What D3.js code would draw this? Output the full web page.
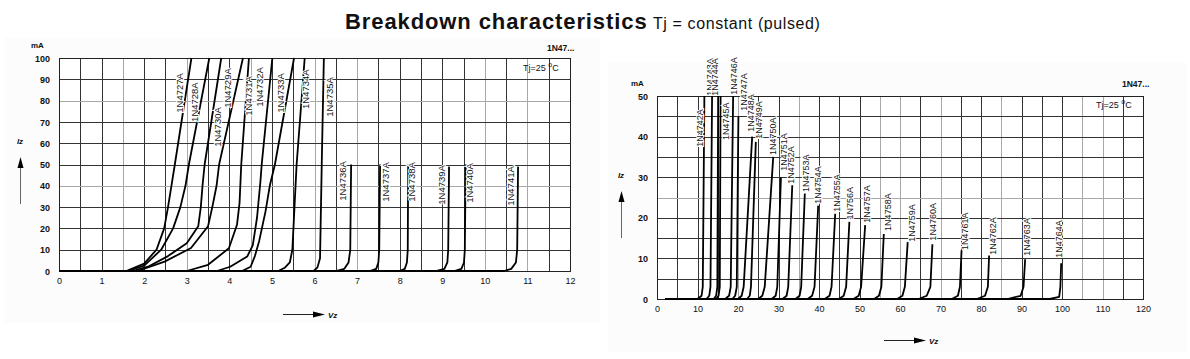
<!DOCTYPE html>
<html>
<head>
<meta charset="utf-8">
<script src="https://cdn.jsdelivr.net/npm/d3@7"></script>
<style>
  body { margin: 0; background: #fff; }
  text { font-family: "Liberation Sans", Arial, sans-serif; fill: #111; }
</style>
</head>
<body>
<script>
// ---- left panel data : 1N4727A .. 1N4741A (Vz in V, Iz in mA) ----
var leftNames = ["1N4727A", "1N4728A", "1N4730A", "1N4729A", "1N4731A", "1N4732A", "1N4733A", "1N4734A", "1N4735A",
  "1N4736A", "1N4737A", "1N4738A", "1N4739A", "1N4740A", "1N4741A"];
var leftCurves = [
  [[0, 0], [1.58, 0], [2.0, 3.5], [2.29, 10], [2.47, 20], [2.56, 30], [2.64, 40], [2.72, 50], [3.11, 100]],
  [[0, 0], [1.62, 0], [2.0, 2.5], [2.4, 10], [2.68, 20], [2.85, 30], [2.97, 40], [3.05, 50], [3.53, 100]],
  [[0, 0], [1.72, 0], [2.09, 2], [2.56, 7], [3.0, 13], [3.27, 21], [3.33, 30], [3.37, 40], [3.42, 50], [3.81, 100]],
  [[0, 0], [1.85, 0], [2.48, 4.4], [3.1, 10.8], [3.5, 21], [3.6, 30], [3.7, 40], [3.76, 50], [4.32, 100]],
  [[0, 0], [3.0, 0], [3.5, 2.9], [3.99, 10.7], [4.18, 21.7], [4.24, 32], [4.28, 50], [4.46, 100]],
  [[0, 0], [3.71, 0], [4.02, 2], [4.42, 6.8], [4.55, 12], [4.65, 25], [4.73, 42], [4.76, 50], [5.01, 100]],
  [[0, 0], [4.3, 0], [4.5, 2], [4.6, 7], [4.7, 14], [4.85, 28], [4.95, 40], [5.07, 50], [5.52, 100]],
  [[0, 0], [5.15, 0], [5.3, 1.5], [5.42, 4], [5.48, 10], [5.53, 30], [5.58, 50], [5.77, 100]],
  [[0, 0], [5.98, 0], [6.07, 1.7], [6.13, 6], [6.17, 50], [6.22, 100]],
  [[0, 0], [6.5, 0], [6.7, 1], [6.8, 4], [6.84, 10], [6.86, 50]],
  [[0, 0], [7.3, 0], [7.45, 1], [7.5, 4], [7.52, 10], [7.54, 50]],
  [[0, 0], [8.0, 0], [8.12, 1], [8.17, 4], [8.19, 10], [8.2, 50]],
  [[0, 0], [8.85, 0], [9.05, 1], [9.12, 4], [9.14, 10], [9.16, 49]],
  [[0, 0], [9.28, 0], [9.45, 1], [9.51, 4], [9.53, 10], [9.55, 50]],
  [[0, 0], [10.45, 0], [10.62, 1], [10.73, 4], [10.76, 10], [10.78, 49]]
];
// where each type label sits, in chart units
var leftLabelAt = [[2.84, 83.6], [3.19, 79.3], [3.73, 67.6], [3.95, 85.9], [4.46, 82.2], [4.72, 86.4], [5.21, 83.6],
  [5.80, 85.4], [6.36, 81.7], [6.66, 42.3], [7.68, 41.8], [8.28, 41.8], [8.99, 40.4], [9.65, 41.3], [10.61, 39.9]];
var leftXTicks = [0, 1, 2, 3, 4, 5, 6, 7, 8, 9, 10, 11, 12];
var leftYTicks = [0, 10, 20, 30, 40, 50, 60, 70, 80, 90, 100];
var leftGreyV = [1.5, 3, 4.5, 6, 7, 10, 11];
var leftGreyH = [40, 80];

// ---- right panel data : 1N4742A .. 1N4764A ----
var rightNames = ["1N4742A", "1N4743A", "1N4744A", "1N4745A", "1N4746A", "1N4747A", "1N4748A", "1N4749A", "1N4750A",
  "1N4751A", "1N4752A", "1N4753A", "1N4754A", "1N4755A", "1N756A", "1N4757A", "1N4758A", "1N4759A", "1N4760A",
  "1N4761A", "1N4762A", "1N4763A", "1N4764A"];
var rightCurves = [
  [[2, 0], [10.0, 0], [11.0, 0.8], [11.3, 3], [11.7, 50]],
  [[2, 0], [12.2, 0], [12.9, 0.8], [13.2, 3], [13.6, 50]],
  [[2, 0], [14.0, 0], [14.6, 0.8], [14.9, 3], [15.1, 50]],
  [[2, 0], [14.6, 0], [15.2, 0.8], [15.5, 3], [15.7, 50]],
  [[2, 0], [16.8, 0], [17.8, 0.8], [18.2, 3], [18.8, 50]],
  [[2, 0], [18.6, 0], [19.3, 0.8], [19.7, 3], [20.1, 45]],
  [[2, 0], [20.0, 0], [20.9, 0.8], [21.4, 3], [23.5, 40]],
  [[2, 0], [22.2, 0], [22.9, 0.8], [23.2, 3], [24.4, 38.7]],
  [[2, 0], [25.0, 0], [26.0, 0.8], [26.6, 3], [28.7, 35]],
  [[2, 0], [28.3, 0], [29.3, 0.8], [29.7, 3], [30.6, 30]],
  [[2, 0], [31.0, 0], [32.0, 0.8], [32.4, 3], [33.4, 28]],
  [[2, 0], [34.2, 0], [35.2, 0.8], [35.6, 3], [36.5, 26]],
  [[2, 0], [37.2, 0], [38.3, 0.8], [38.9, 3], [39.8, 23]],
  [[2, 0], [41.4, 0], [42.6, 0.8], [43.1, 3], [44.0, 21]],
  [[2, 0], [44.9, 0], [46.1, 0.8], [46.7, 3], [47.5, 19]],
  [[2, 0], [48.5, 0], [49.8, 0.8], [50.4, 3], [51.4, 18.2]],
  [[2, 0], [53.6, 0], [54.8, 0.8], [55.4, 3], [56.0, 16]],
  [[2, 0], [59.3, 0], [60.6, 0.8], [61.2, 3], [61.9, 14]],
  [[2, 0], [64.6, 0], [66.6, 0.8], [67.5, 3], [68.0, 13.5]],
  [[2, 0], [72.8, 0], [74.3, 0.8], [74.8, 3], [75.2, 12]],
  [[2, 0], [79.0, 0], [81.0, 0.8], [81.7, 3], [82.0, 10.7]],
  [[2, 0], [86.5, 0], [89.8, 0.8], [90.5, 3], [90.9, 9.8]],
  [[2, 0], [97.0, 0], [99.3, 0.5], [99.6, 3], [99.8, 8.8]]
];
var rightLabelAt = [[10.6, 42.1], [13.1, 54.7], [14.3, 54.7], [17.0, 43.8], [19.0, 54.9], [21.5, 51.0], [23.1, 45.8],
  [25.2, 44.1], [28.7, 40.1], [31.2, 36.2], [33.0, 33.0], [36.8, 31.0], [39.8, 28.1], [44.4, 26.1], [47.7, 23.6],
  [51.8, 23.4], [57.0, 21.4], [62.9, 18.7], [68.2, 19.0], [75.9, 16.7], [82.9, 15.5], [91.3, 15.3], [99.1, 14.8]];
var rightXTicks = [0, 10, 20, 30, 40, 50, 60, 70, 80, 90, 100, 110, 120];
var rightYTicks = [0, 10, 20, 30, 40, 50];
var rightGreyV = [20, 35, 55, 60, 70, 85, 105, 110];
var rightGreyH = [25];

var svg = d3.select("body").append("svg")
  .attr("width", 1190)
  .attr("height", 359);

// title
var title = svg.append("text").attr("x", 345).attr("y", 29);
title.append("tspan").attr("font-size", 22).attr("font-weight", "bold").attr("letter-spacing", 0.9)
  .text("Breakdown characteristics");
title.append("tspan").attr("x", 653).attr("font-size", 16).attr("letter-spacing", 0.6)
  .text("Tj = constant (pulsed)");

// draws one panel; o holds the scales and the decorations
function panel(o) {
  var g = svg.append("g");
  var x = o.x, y = o.y;
  var x0 = x.range()[0], x1 = x.range()[1], y0 = y.range()[0], y1 = y.range()[1];

  g.append("rect").attr("x", o.bg[0]).attr("y", o.bg[1]).attr("width", o.bg[2]).attr("height", o.bg[3])
    .attr("fill", "#fcfcfc");
  g.append("rect").attr("x", x0).attr("y", y1).attr("width", x1 - x0).attr("height", y0 - y1).attr("fill", "#fff");

  // grid
  g.append("g").selectAll("line").data(o.vGrid).join("line")
    .attr("x1", d => Math.round(x(d)) + 0.5).attr("x2", d => Math.round(x(d)) + 0.5)
    .attr("y1", y1).attr("y2", y0)
    .attr("stroke", d => o.greyV.indexOf(d) >= 0 ? "#a8a8a8" : "#333")
    .attr("stroke-width", 1);
  g.append("g").selectAll("line").data(o.hGrid).join("line")
    .attr("y1", d => Math.round(y(d)) + 0.5).attr("y2", d => Math.round(y(d)) + 0.5)
    .attr("x1", x0).attr("x2", x1)
    .attr("stroke", d => o.greyH.indexOf(d) >= 0 ? "#a8a8a8" : "#333")
    .attr("stroke-width", 1);
  g.append("rect").attr("x", x0 + 0.5).attr("y", y1 + 0.5).attr("width", x1 - x0).attr("height", y0 - y1)
    .attr("fill", "none").attr("stroke", "#222");

  // axes (labels only)
  var ax = g.append("g").attr("transform", "translate(0," + (y0 + 4) + ")")
    .call(d3.axisBottom(x).tickValues(o.xTicks).tickSize(0).tickFormat(d3.format("d")));
  var ay = g.append("g").attr("transform", "translate(" + (x0 - 6) + ",0)")
    .call(d3.axisLeft(y).tickValues(o.yTicks).tickSize(0).tickFormat(d3.format("d")));
  [ax, ay].forEach(function(a) {
    a.select(".domain").remove();
    a.selectAll("text").attr("font-size", 9).attr("fill", "#111")
      .attr("font-family", "'Liberation Sans', Arial, sans-serif").attr("font-weight", "bold");
  });
  ax.selectAll("text").attr("font-weight", "normal");
  ay.selectAll("text").attr("dy", "0.35em");

  // curves
  var line = d3.line().x(d => x(d[0])).y(d => y(d[1]));
  g.append("g").selectAll("path").data(o.curves).join("path")
    .attr("d", line).attr("fill", "none").attr("stroke", "#000")
    .attr("stroke-width", 1.8).attr("stroke-linejoin", "round");

  // type labels
  g.append("g").selectAll("text").data(o.names).join("text")
    .attr("transform", (d, i) => "translate(" + x(o.labelAt[i][0]) + "," + y(o.labelAt[i][1]) + ") rotate(-90)")
    .attr("text-anchor", "middle").attr("dy", "0.35em")
    .attr("font-size", o.labelSize)
    .attr("stroke", "#fff").attr("stroke-width", 2).attr("paint-order", "stroke")
    .text(d => d);

  // unit, family and temperature notes
  g.append("text").attr("x", o.mA[0]).attr("y", o.mA[1]).attr("font-size", 8).attr("font-weight", "bold").text("mA");
  g.append("text").attr("x", o.fam[0]).attr("y", o.fam[1]).attr("font-size", 8.5).attr("font-weight", "bold").text("1N47...");
  var tj = g.append("text").attr("x", o.tj[0]).attr("y", o.tj[1]).attr("font-size", 9);
  tj.append("tspan").text("Tj=25 ");
  tj.append("tspan").attr("font-size", 7).attr("dy", -4).text("o");
  tj.append("tspan").attr("dy", 4).text("C");

  // Iz arrow
  g.append("text").attr("x", o.iz[0]).attr("y", o.iz[1]).attr("font-size", 8).attr("font-style", "italic")
    .attr("font-weight", "bold").attr("text-anchor", "middle").text("Iz");
  g.append("line").attr("x1", o.iz[0] + 0.5).attr("x2", o.iz[0] + 0.5).attr("y1", o.iz[1] + 16).attr("y2", o.iz[1] + 60)
    .attr("stroke", "#666").attr("stroke-width", 1);
  g.append("path").attr("d", "M" + (o.iz[0] + 0.5) + "," + (o.iz[1] + 13) + " l-3,11 l6,0 z").attr("fill", "#000");

  // Vz arrow
  g.append("line").attr("x1", o.vz[0]).attr("x2", o.vz[0] + 36).attr("y1", o.vz[1] + 0.5).attr("y2", o.vz[1] + 0.5)
    .attr("stroke", "#222").attr("stroke-width", 1);
  g.append("path").attr("d", "M" + (o.vz[0] + 42) + "," + (o.vz[1] + 0.5) + " l-12,-3 l0,6 z").attr("fill", "#000");
  g.append("text").attr("x", o.vz[0] + 45).attr("y", o.vz[1] + 3.5).attr("font-size", 8).attr("font-style", "italic")
    .attr("font-weight", "bold").text("Vz");
}

panel({
  x: d3.scaleLinear().domain([0, 12]).range([59, 570]),
  y: d3.scaleLinear().domain([0, 100]).range([271, 58]),
  vGrid: d3.range(0.5, 12, 0.5), hGrid: d3.range(10, 100, 10),
  greyV: leftGreyV, greyH: leftGreyH,
  xTicks: leftXTicks, yTicks: leftYTicks,
  curves: leftCurves, names: leftNames, labelAt: leftLabelAt, labelSize: 9.5,
  bg: [4, 38, 596, 285],
  mA: [31, 48], fam: [547, 51], tj: [523, 71], iz: [20, 144], vz: [283, 314]
});

panel({
  x: d3.scaleLinear().domain([0, 120]).range([657, 1143]),
  y: d3.scaleLinear().domain([0, 50]).range([299, 96]),
  vGrid: d3.range(5, 120, 5), hGrid: d3.range(5, 50, 5),
  greyV: rightGreyV, greyH: rightGreyH,
  xTicks: rightXTicks, yTicks: rightYTicks,
  curves: rightCurves, names: rightNames, labelAt: rightLabelAt, labelSize: 9,
  bg: [608, 62, 578, 290],
  mA: [631, 86], fam: [1122, 87], tj: [1096, 108], iz: [621, 178], vz: [884, 340]
});
</script>
</body>
</html>
